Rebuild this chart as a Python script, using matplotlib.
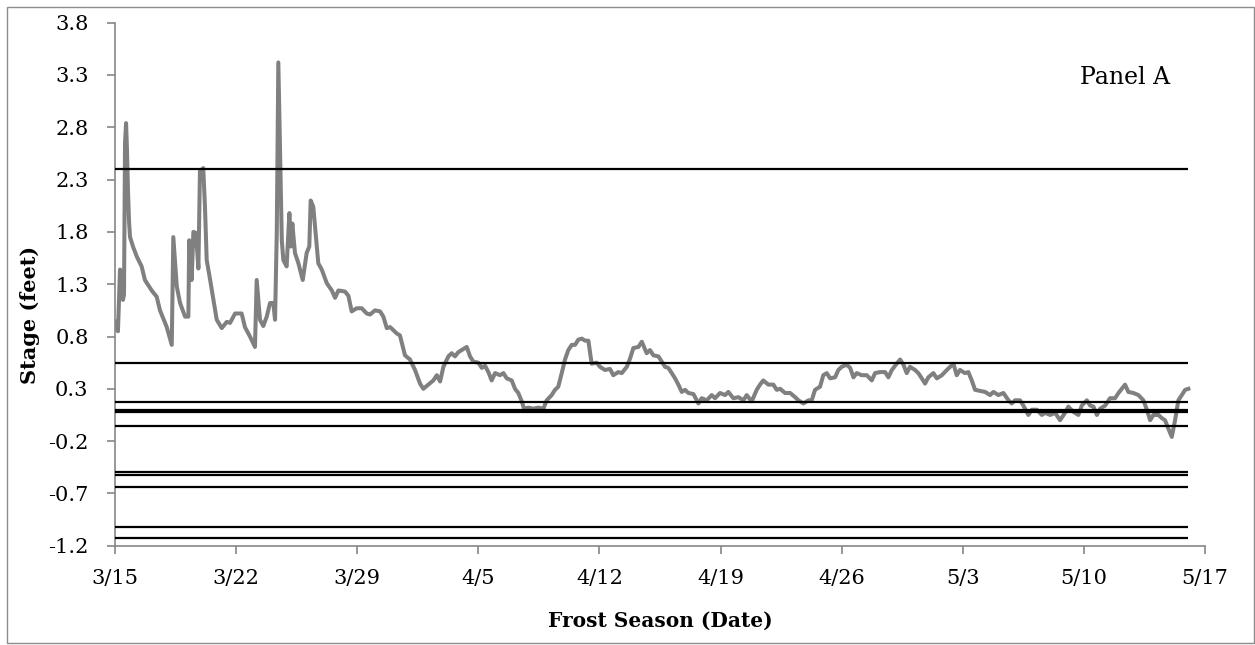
import pandas as pd
import numpy as np
import matplotlib
matplotlib.use('Agg')
import matplotlib.pyplot as plt
from matplotlib.patches import Rectangle
from matplotlib.ticker import FuncFormatter

# stage record, days after 3/15 and stage in feet
days = [0.00, 0.17, 0.29, 0.40, 0.46, 0.52, 0.58, 0.64, 0.69, 0.75, 0.81, 0.87,
        1.04, 1.27, 1.54, 1.73, 2.12, 2.41, 2.60, 2.99, 3.28, 3.37, 3.57, 3.76,
        4.05, 4.24, 4.29, 4.43, 4.53, 4.68, 4.82, 4.91, 5.10, 5.20, 5.30, 5.49,
        5.88, 6.17, 6.46, 6.65, 6.94, 7.32, 7.51, 7.80, 8.09, 8.19, 8.38, 8.57,
        8.77, 8.96, 9.15, 9.25, 9.35, 9.44, 9.64, 9.73, 9.92, 10.08, 10.16, 10.25,
        10.40, 10.60, 10.85, 11.08, 11.23, 11.31, 11.46, 11.56, 11.75, 11.95, 12.24, 12.53,
        12.72, 12.91, 13.29, 13.49, 13.68, 13.97, 14.26, 14.55, 14.74, 15.03, 15.32, 15.51,
        15.71, 15.90, 16.09, 16.28, 16.47, 16.76, 17.05, 17.34, 17.63, 17.82, 18.11, 18.40,
        18.60, 18.79, 18.98, 19.27, 19.46, 19.65, 19.84, 20.04, 20.33, 20.52, 20.71, 21.00,
        21.20, 21.39, 21.58, 21.77, 21.97, 22.25, 22.45, 22.64, 22.93, 23.12, 23.31, 23.51,
        23.64, 23.89, 24.18, 24.47, 24.76, 24.95, 25.24, 25.43, 25.62, 25.82, 26.01, 26.20,
        26.40, 26.59, 26.78, 26.98, 27.17, 27.36, 27.55, 27.84, 28.03, 28.32, 28.61, 28.80,
        29.09, 29.29, 29.58, 29.77, 29.96, 30.25, 30.45, 30.73, 30.92, 31.12, 31.41, 31.60,
        31.79, 31.98, 32.18, 32.37, 32.56, 32.76, 32.95, 33.14, 33.43, 33.72, 33.91, 34.20,
        34.49, 34.68, 34.97, 35.26, 35.45, 35.74, 36.03, 36.32, 36.51, 36.80, 37.09, 37.28,
        37.47, 37.76, 38.05, 38.25, 38.44, 38.73, 39.02, 39.31, 39.50, 39.79, 40.08, 40.27,
        40.46, 40.75, 40.94, 41.14, 41.33, 41.62, 41.81, 42.00, 42.29, 42.49, 42.68, 42.87,
        43.16, 43.45, 43.74, 43.93, 44.22, 44.51, 44.70, 44.90, 45.18, 45.38, 45.57, 45.76,
        45.95, 46.24, 46.43, 46.63, 46.82, 47.01, 47.30, 47.50, 47.79, 48.08, 48.27, 48.46,
        48.65, 48.84, 49.13, 49.32, 49.52, 49.71, 50.00, 50.29, 50.58, 50.77, 51.06, 51.35,
        51.64, 51.83, 52.02, 52.31, 52.50, 52.79, 52.99, 53.28, 53.57, 53.76, 54.05, 54.34,
        54.62, 54.91, 55.10, 55.39, 55.68, 55.88, 56.17, 56.36, 56.55, 56.75, 56.94, 57.23,
        57.51, 57.80, 58.00, 58.19, 58.38, 58.57, 58.86, 59.15, 59.44, 59.64, 59.83, 60.02,
        60.31, 60.50, 60.69, 60.88, 61.08, 61.27, 61.46, 61.66, 61.85, 62.04]
stage = [0.94, 0.85, 1.44, 1.42, 1.15, 1.20, 2.65, 2.84, 2.60, 2.20, 1.90, 1.75,
         1.66, 1.56, 1.47, 1.34, 1.24, 1.18, 1.05, 0.89, 0.72, 1.75, 1.28, 1.12,
         0.99, 0.99, 1.72, 1.34, 1.80, 1.79, 1.45, 2.38, 2.41, 2.04, 1.53, 1.35,
         0.96, 0.88, 0.94, 0.93, 1.02, 1.02, 0.89, 0.80, 0.70, 1.34, 0.96, 0.90,
         0.99, 1.12, 1.12, 0.96, 1.79, 3.42, 1.72, 1.53, 1.47, 1.98, 1.66, 1.88,
         1.60, 1.50, 1.34, 1.60, 1.66, 2.10, 2.04, 1.85, 1.50, 1.44, 1.31, 1.24,
         1.17, 1.24, 1.23, 1.19, 1.04, 1.07, 1.07, 1.02, 1.01, 1.05, 1.04, 0.99,
         0.88, 0.89, 0.86, 0.83, 0.81, 0.62, 0.58, 0.48, 0.35, 0.30, 0.34, 0.38,
         0.43, 0.37, 0.51, 0.61, 0.64, 0.61, 0.65, 0.67, 0.70, 0.61, 0.56, 0.55,
         0.50, 0.52, 0.46, 0.38, 0.45, 0.43, 0.45, 0.40, 0.38, 0.30, 0.26, 0.18,
         0.11, 0.12, 0.11, 0.12, 0.11, 0.19, 0.24, 0.29, 0.32, 0.45, 0.58, 0.67,
         0.72, 0.72, 0.77, 0.78, 0.76, 0.76, 0.54, 0.55, 0.51, 0.48, 0.49, 0.43,
         0.46, 0.45, 0.51, 0.59, 0.69, 0.70, 0.75, 0.64, 0.67, 0.62, 0.61, 0.56,
         0.51, 0.50, 0.45, 0.40, 0.34, 0.27, 0.29, 0.26, 0.25, 0.16, 0.21, 0.19,
         0.24, 0.21, 0.26, 0.24, 0.27, 0.21, 0.22, 0.19, 0.24, 0.18, 0.29, 0.34,
         0.38, 0.34, 0.34, 0.29, 0.30, 0.26, 0.26, 0.22, 0.19, 0.16, 0.19, 0.19,
         0.29, 0.32, 0.43, 0.45, 0.40, 0.41, 0.48, 0.51, 0.53, 0.50, 0.41, 0.45,
         0.43, 0.43, 0.38, 0.45, 0.46, 0.46, 0.41, 0.48, 0.54, 0.58, 0.53, 0.45,
         0.51, 0.48, 0.45, 0.40, 0.35, 0.41, 0.45, 0.40, 0.43, 0.48, 0.51, 0.54,
         0.43, 0.48, 0.45, 0.46, 0.38, 0.29, 0.28, 0.27, 0.24, 0.27, 0.24, 0.26,
         0.19, 0.16, 0.19, 0.19, 0.14, 0.05, 0.10, 0.10, 0.05, 0.07, 0.05, 0.07,
         0.00, 0.07, 0.13, 0.08, 0.05, 0.14, 0.19, 0.14, 0.13, 0.05, 0.11, 0.14,
         0.21, 0.21, 0.26, 0.30, 0.34, 0.27, 0.26, 0.24, 0.19, 0.10, 0.00, 0.05,
         0.05, 0.02, 0.00, -0.08, -0.16, 0.00, 0.19, 0.24, 0.29, 0.30]

# reference stage levels drawn as horizontal lines
levels = [2.40, 0.55, 0.17, 0.095, 0.075, -0.06, -0.50, -0.527, -0.64, -1.02, -1.13]

season_start = pd.Timestamp('2013-03-15')
dates = season_start + pd.to_timedelta(days, unit='D')
week_ticks = pd.date_range('2013-03-15', '2013-05-17', freq='7D')

plt.rcParams['font.family'] = ['DejaVu Serif']
axis_grey = '#868686'

fig = plt.figure(figsize=(12.55, 6.45), dpi=100)
ax = fig.add_axes([115 / 1255, 1 - 545.7 / 645, 1090 / 1255, 523 / 645])

ax.plot(dates, stage, color='#808080', linewidth=2.9, solid_joinstyle='round', zorder=2)
ax.hlines(levels, dates[0], dates[-1], colors='black', linewidth=1.6, zorder=3)

ax.set_xlim(week_ticks[0], week_ticks[-1])
ax.set_ylim(-1.2, 3.8)
ax.set_yticks(np.arange(-1.2, 3.81, 0.5))
ax.yaxis.set_major_formatter(FuncFormatter(lambda v, p: f'{v:.1f}'))
ax.set_xticks(week_ticks)
ax.set_xticklabels([f'{d.month}/{d.day}' for d in week_ticks])

for side in ['top', 'right']:
    ax.spines[side].set_visible(False)
for side in ['left', 'bottom']:
    ax.spines[side].set_color(axis_grey)
    ax.spines[side].set_linewidth(1.2)
ax.tick_params(axis='y', direction='out', length=6, width=1.2, color=axis_grey,
               labelsize=15, pad=13)
ax.tick_params(axis='x', direction='out', length=6, width=1.2, color=axis_grey,
               labelsize=15, pad=11)

fig.text(30 / 1255, 1 - 315 / 645, 'Stage (feet)', rotation=90, fontsize=15,
         fontweight='bold', ha='center', va='center')
fig.text(660 / 1255, 1 - 621 / 645, 'Frost Season (Date)', fontsize=14.5,
         fontweight='bold', ha='center', va='center')
fig.text(1125 / 1255, 1 - 77 / 645, 'Panel A', fontsize=17, ha='center', va='center')

# thin grey frame around the whole chart
fig.patches.append(Rectangle((7 / 1255, 2 / 645), 1247 / 1255, 636 / 645,
                             transform=fig.transFigure, fill=False,
                             edgecolor='#8c8c8c', linewidth=1.0))

fig.savefig('out.png', dpi=100)
plt.close(fig)
